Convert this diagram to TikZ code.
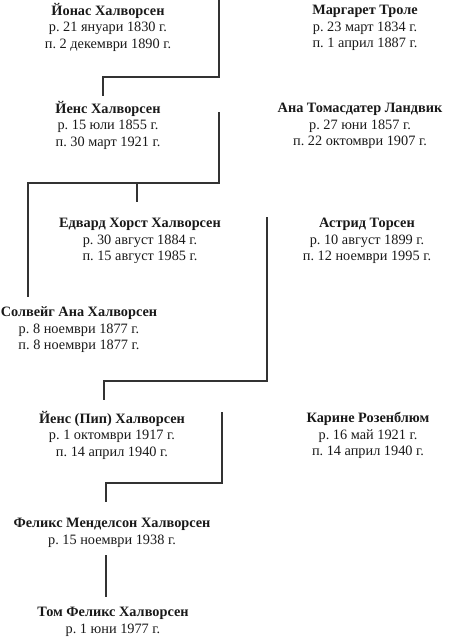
\documentclass[tikz,border=0pt]{standalone}
\usepackage{fontspec}
\setmainfont{Liberation Serif}
\frenchspacing
\begin{document}
\begin{tikzpicture}[x=1pt,y=-1pt,
  person/.style={anchor=north,align=center,inner sep=0pt,text=black!90,
    font=\fontsize{14.3}{16.5}\selectfont},
  link/.style={draw=black!80,line width=1.2pt}]
\useasboundingbox (0,0) rectangle (454,640);
% generation 1
\node[person] (jonas) at (108,3) {\strut\textbf{Йонас Халворсен}\\р. 21 януари 1830 г.\\п. 2 декември 1890 г.\strut};
\node[person] (margaret) at (365,3) {\strut\textbf{Маргарет Троле}\\р. 23 март 1834 г.\\п. 1 април 1887 г.\strut};
% generation 2
\node[person] (jens) at (108,101) {\strut\textbf{Йенс Халворсен}\\р. 15 юли 1855 г.\\п. 30 март 1921 г.\strut};
\node[person] (ana) at (360,101) {\strut\textbf{Ана Томасдатер Ландвик}\\р. 27 юни 1857 г.\\п. 22 октомври 1907 г.\strut};
% generation 3
\node[person] (edvard) at (140,216) {\strut\textbf{Едвард Хорст Халворсен}\\р. 30 август 1884 г.\\п. 15 август 1985 г.\strut};
\node[person] (astrid) at (367,216) {\strut\textbf{Астрид Торсен}\\р. 10 август 1899 г.\\п. 12 ноември 1995 г.\strut};
\node[person] (solveig) at (79,305) {\strut\textbf{Солвейг Ана Халворсен}\\р. 8 ноември 1877 г.\\п. 8 ноември 1877 г.\strut};
% generation 4
\node[person] (pip) at (112,411) {\strut\textbf{Йенс (Пип) Халворсен}\\р. 1 октомври 1917 г.\\п. 14 април 1940 г.\strut};
\node[person] (karine) at (368,411) {\strut\textbf{Карине Розенблюм}\\р. 16 май 1921 г.\\п. 14 април 1940 г.\strut};
% generation 5
\node[person] (felix) at (112,516) {\strut\textbf{Феликс Менделсон Халворсен}\\р. 15 ноември 1938 г.\strut};
% generation 6
\node[person] (tom) at (113,605) {\strut\textbf{Том Феликс Халворсен}\\р. 1 юни 1977 г.\strut};
% couple lines and corners
\coordinate (m1) at (219,0);
\coordinate (k1) at (103,77);
\coordinate (m2) at (219,112);
\coordinate (k2) at (28,183);
\coordinate (k2b) at (137,183);
\coordinate (m3) at (267,217);
\coordinate (k3) at (104,381);
\coordinate (m4) at (222,412);
\coordinate (k4) at (106,483);
\coordinate (k5) at (106,555);
% connectors
\draw[link,shorten >=5pt] (m1) |- (k1) -- (k1 |- jens.north);
\draw[link,shorten >=8pt] (m2) |- (k2) -- (k2 |- solveig.north);
\draw[link,shorten >=14pt] (k2b) -- (k2b |- edvard.north);
\draw[link,shorten >=11pt] (m3) |- (k3) -- (k3 |- pip.north);
\draw[link,shorten >=14pt] (m4) |- (k4) -- (k4 |- felix.north);
\draw[link,shorten >=8pt] (k5) -- (k5 |- tom.north);
\end{tikzpicture}
\end{document}
